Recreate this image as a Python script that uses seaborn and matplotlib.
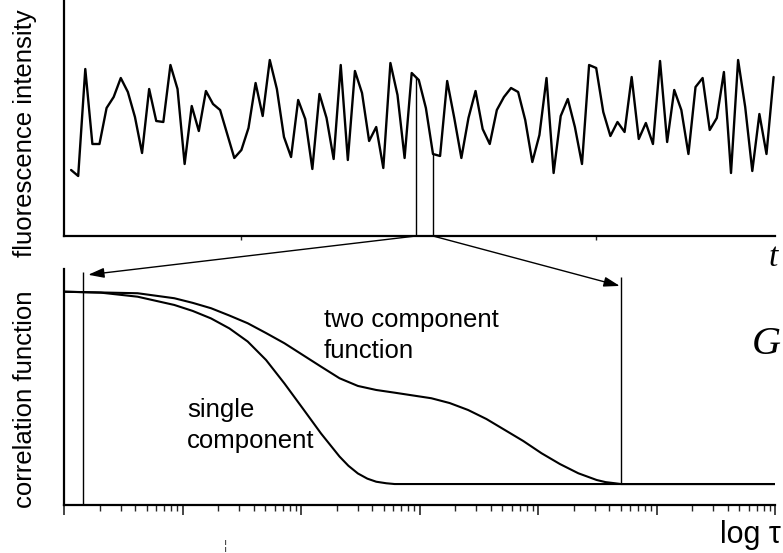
import numpy as np
import matplotlib
matplotlib.use("Agg")
import matplotlib.pyplot as plt
import seaborn as sns
from matplotlib.patches import ConnectionPatch

# fluorescence trace (arbitrary intensity units), one value per time bin
trace_intensity = [
    66, 60, 167, 92, 92, 128, 139, 158, 144, 119,
    83, 147, 115, 114, 171, 147, 72, 130, 105, 145,
    132, 126, 102, 78, 86, 108, 153, 120, 176, 147,
    99, 79, 136, 117, 67, 142, 118, 77, 171, 76,
    165, 143, 95, 109, 68, 173, 141, 78, 163, 156,
    128, 82, 80, 155, 118, 78, 118, 145, 107, 92,
    126, 139, 148, 144, 116, 74, 101, 158, 63, 120,
    137, 109, 72, 171, 168, 124, 100, 114, 104, 159,
    97, 113, 92, 175, 94, 146, 126, 82, 149, 158,
    106, 118, 164, 63, 176, 129, 65, 122, 82, 159,
]
time_ticks = [25, 75]
window = [49.6, 52.0]

# correlation curves, G normalised to 1 at short lag times
single_log_tau = [0.0, 0.311, 0.621, 0.931, 1.086, 1.241, 1.396, 1.550, 1.705,
                  1.860, 2.015, 2.170, 2.325, 2.400, 2.480, 2.560, 2.635, 2.720,
                  2.790, 3.5, 6.0]
single_g = [1.0, 0.995, 0.974, 0.931, 0.900, 0.861, 0.809, 0.741, 0.645,
            0.523, 0.393, 0.262, 0.143, 0.095, 0.055, 0.028, 0.012, 0.004,
            0.0, 0.0, 0.0]

two_log_tau = [0.0, 0.621, 0.931, 1.086, 1.241, 1.396, 1.550, 1.705, 1.860,
               2.015, 2.170, 2.325, 2.480, 2.635, 2.790, 3.100, 3.255, 3.410,
               3.565, 3.720, 3.875, 4.030, 4.185, 4.340, 4.495, 4.570, 4.650,
               4.700, 6.0]
two_g = [1.0, 0.992, 0.966, 0.942, 0.914, 0.876, 0.836, 0.785, 0.732,
         0.671, 0.610, 0.550, 0.510, 0.489, 0.475, 0.446, 0.421, 0.385,
         0.338, 0.281, 0.224, 0.160, 0.104, 0.056, 0.021, 0.010, 0.004,
         0.0, 0.0]

lag_marks = [1.45, 5.0e4]
arrow_tips = [(1.6, 1.088), (4.9e4, 1.03)]

sns.set_style("white")
plt.rcParams["font.family"] = ["Liberation Sans", "DejaVu Sans"]
plt.rcParams["text.color"] = "black"

W, H = 783, 553
fig = plt.figure(figsize=(W / 100, H / 100), dpi=100)


def px(x, y):
    return x / W, 1 - y / H


# --- top panel: intensity trace ---
ax_top = fig.add_axes([64 / W, (H - 236) / H, 711 / W, 236 / H])
t = np.arange(1, len(trace_intensity) + 1)
sns.lineplot(x=t, y=trace_intensity, ax=ax_top, color="black", lw=1.7)
ax_top.vlines(window, 0, np.interp(window, t, trace_intensity), color="black", lw=1)
ax_top.set_xlim(0, 100.2)
ax_top.set_ylim(0, 236)
ax_top.set_xticks(time_ticks)
ax_top.set_xticklabels([])
ax_top.set_yticks([])
ax_top.tick_params(axis="x", bottom=True, direction="out", length=3, width=1)

# --- bottom panel: correlation functions ---
ax_bot = fig.add_axes([64 / W, (H - 505) / H, 711 / W, (505 - 269) / H])
ax_bot.set_xscale("log")
sns.lineplot(x=10 ** np.array(single_log_tau), y=single_g, ax=ax_bot, color="black", lw=1.5)
sns.lineplot(x=10 ** np.array(two_log_tau), y=two_g, ax=ax_bot, color="black", lw=1.5)
ax_bot.vlines(lag_marks[0], -0.109, 1.104, color="black", lw=1)
ax_bot.vlines(lag_marks[1], 0, 1.076, color="black", lw=1)
ax_bot.set_xlim(1, 1e6)
ax_bot.set_ylim(-0.109, 1.118)
ax_bot.set_yticks([])
ax_bot.xaxis.set_major_locator(matplotlib.ticker.LogLocator(base=10))
ax_bot.xaxis.set_minor_locator(matplotlib.ticker.LogLocator(base=10, subs=np.arange(2, 10)))
ax_bot.xaxis.set_major_formatter(matplotlib.ticker.NullFormatter())
ax_bot.xaxis.set_minor_formatter(matplotlib.ticker.NullFormatter())
ax_bot.tick_params(axis="x", which="major", bottom=True, direction="out", length=7, width=1.2)
ax_bot.tick_params(axis="x", which="minor", bottom=True, direction="out", length=4, width=1)

for ax in (ax_top, ax_bot):
    ax.set_xlabel("")
    ax.set_ylabel("")
    ax.patch.set_alpha(0)
    for side in ("top", "right"):
        ax.spines[side].set_visible(False)
    for side in ("left", "bottom"):
        ax.spines[side].set_color("black")
        ax.spines[side].set_linewidth(1.6)

# arrows from the selected time window to the lag-time range
for xa, tip in zip(window, arrow_tips):
    con = ConnectionPatch(xyA=(xa, 0), coordsA=ax_top.transData,
                          xyB=tip, coordsB=ax_bot.transData,
                          arrowstyle="-|>,head_length=0.8,head_width=0.25",
                          mutation_scale=12, lw=1, color="black")
    fig.add_artist(con)

# labels
fig.text(*px(25, 133), "fluorescence intensity", rotation=90, ha="center", va="center", fontsize=18.5)
fig.text(*px(25, 399), "correlation function", rotation=90, ha="center", va="center", fontsize=18.5)
fig.text(*px(324, 335.5), "two component\nfunction", ha="left", va="center", fontsize=18.5, linespacing=1.36)
fig.text(*px(187, 425.5), "single\ncomponent", ha="left", va="center", fontsize=18.5, linespacing=1.36)
fig.text(*px(773, 258), "t", ha="center", va="center", fontsize=24, family="Liberation Serif", style="italic")
fig.text(*px(752, 344), "G", ha="left", va="center", fontsize=29, family="Liberation Serif", style="italic")
fig.text(*px(720, 543), "log τ", ha="left", va="baseline", fontsize=22)
fig.text(*px(226, 546), "¦", ha="center", va="center", fontsize=9, color="#333333")

fig.savefig("out.png", dpi=100)
